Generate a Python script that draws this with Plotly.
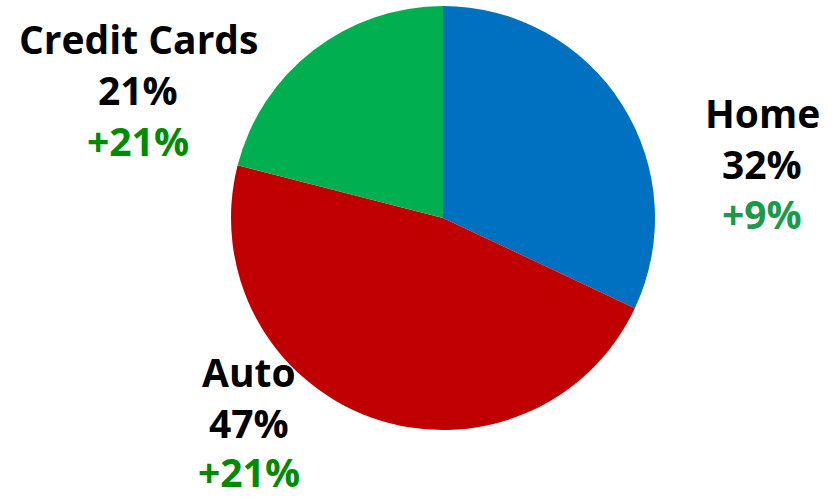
import plotly.graph_objects as go

labels = ["Home", "Auto", "Credit Cards"]
shares = [32, 47, 21]
changes = ["+9%", "+21%", "+21%"]
slice_colors = ["#0070C0", "#C00000", "#00B050"]
change_colors = ["#1A9A4A", "#008A00", "#008A00"]

# label block layout: center x px, and cap-center y px of each of the three lines
label_pos = {
    "Home": (762, [115, 165, 216]),
    "Auto": (249, [373, 424, None]),   # None: sit on the bottom edge
    "Credit Cards": (138, [41, 92, 142]),
}

W, H = 839, 500
cx, cy, r = 443, 218, 212

fig = go.Figure(go.Pie(
    labels=labels, values=shares, sort=False, direction="clockwise", rotation=0,
    marker=dict(colors=slice_colors, line=dict(width=0)),
    textinfo="none", hoverinfo="skip", showlegend=False,
    domain=dict(x=[(cx - r) / W, (cx + r) / W], y=[1 - (cy + r) / H, 1 - (cy - r) / H]),
))

font = "Open Sans, DejaVu Sans, sans-serif"
annotations = []
for lab, val, chg, cc in zip(labels, shares, changes, change_colors):
    x, ys = label_pos[lab]
    lines = [(lab, "#000000"), (f"{val}%", "#000000"), (chg, cc)]
    for (t, col), y in zip(lines, ys):
        if y is None:
            yy, anchor = 0, "bottom"
        else:
            yy, anchor = 1 - (y - 2) / H, "middle"
        annotations.append(dict(
            text=f"<b>{t}</b>", x=x / W, y=yy, xref="paper", yref="paper",
            showarrow=False, xanchor="center", yanchor=anchor,
            font=dict(family=font, size=39, color=col),
        ))

fig.update_layout(
    width=W, height=H, margin=dict(l=0, r=0, t=0, b=0),
    paper_bgcolor="white", plot_bgcolor="white", annotations=annotations,
)
fig.write_html("out.html", config={"displayModeBar": False},
               post_script="document.body.style.margin='0';")
